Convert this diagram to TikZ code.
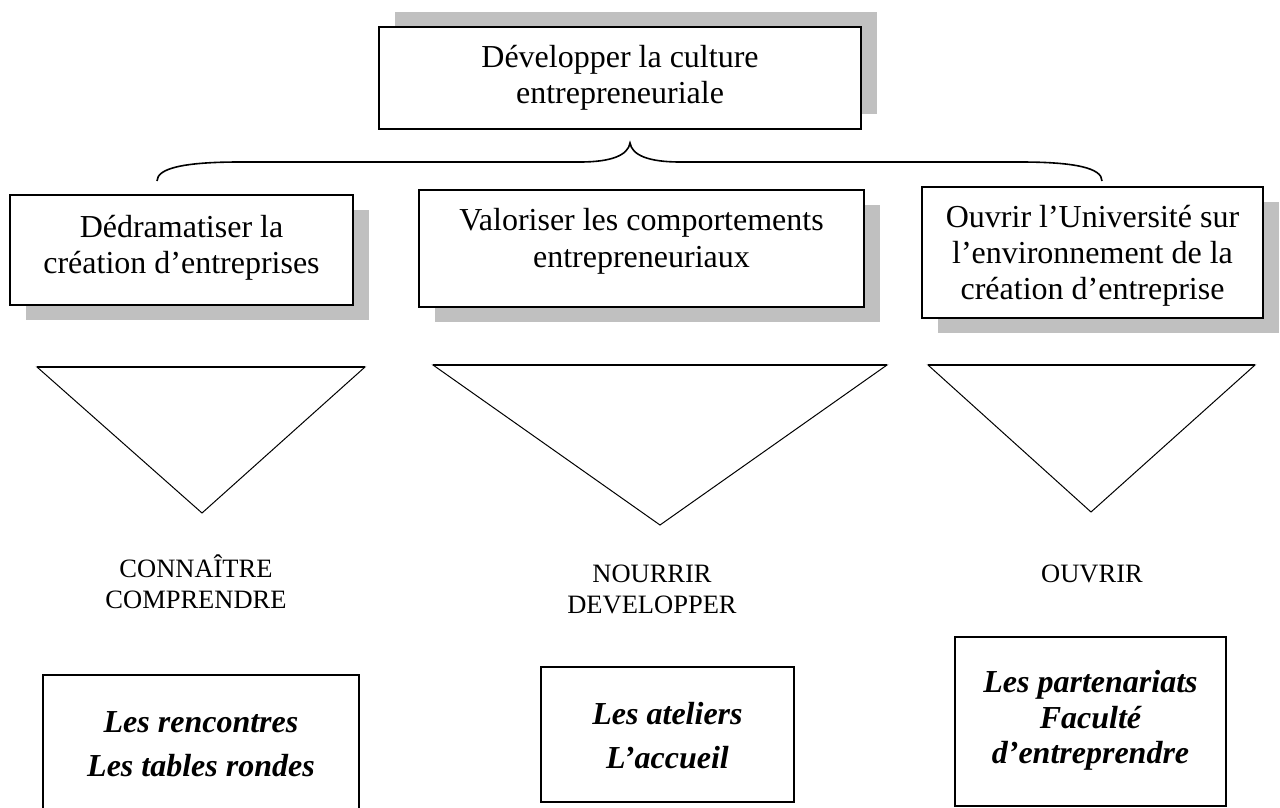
\documentclass[tikz,border=0pt]{standalone}
\usepackage{fontspec}
\setmainfont{Liberation Serif}
\definecolor{shadowgray}{RGB}{192,192,192}
\tikzset{
  box/.style={draw=black, line width=1.6pt, fill=white, inner sep=0pt},
  actbox/.style={draw=black, line width=1.3pt, fill=white, inner sep=0pt},
  shadowbox/.style={fill=shadowgray, draw=none, inner sep=0pt},
  txtline/.style={inner sep=0pt, anchor=base, font=\fontsize{32}{36}\selectfont},
  verbline/.style={inner sep=0pt, anchor=base, font=\fontsize{26.5}{31}\selectfont},
  actline/.style={inner sep=0pt, anchor=base, font=\fontsize{32}{36}\selectfont\bfseries\itshape},
  tri/.style={draw=black, line width=1pt, line join=miter},
  tritop/.style={draw=black, line width=1.9pt},
  bracepath/.style={draw=black, line width=1.6pt},
}
\begin{document}
\begin{tikzpicture}[x=1pt,y=-1pt]
\useasboundingbox (0,0) rectangle (1280,808);
\clip (0,0) rectangle (1280,808);

% shadows
\node[shadowbox, minimum width=482pt, minimum height=102pt] (topsh) at (636,63) {};
\node[shadowbox, minimum width=343pt, minimum height=110pt] (b1sh) at (197.5,265) {};
\node[shadowbox, minimum width=445pt, minimum height=117pt] (b2sh) at (657.5,263.5) {};
\node[shadowbox, minimum width=341pt, minimum height=131pt] (b3sh) at (1108.5,267.5) {};

% boxes
\node[box, minimum width=482pt, minimum height=102pt] (top) at (620,78) {};
\node[box, minimum width=343pt, minimum height=110pt] (b1) at (181.5,250) {};
\node[box, minimum width=445pt, minimum height=117pt] (b2) at (641.5,248.5) {};
\node[box, minimum width=341pt, minimum height=131pt] (b3) at (1092.5,252.5) {};

% box texts
\node[txtline] (top1) at (620,67) {Développer la culture};
\node[txtline] (top2) at (620,103) {entrepreneuriale};
\node[txtline] (b1a) at (181.5,237) {Dédramatiser la};
\node[txtline] (b1b) at (181.5,273) {création d’entreprises};
\node[txtline] (b2a) at (641.5,230) {Valoriser les comportements};
\node[txtline] (b2b) at (641.5,267) {entrepreneuriaux};
\node[txtline] (b3a) at (1092.5,227) {Ouvrir l’Université sur};
\node[txtline] (b3b) at (1092.5,263) {l’environnement de la};
\node[txtline] (b3c) at (1092.5,299) {création d’entreprise};

% brace
\coordinate (brL) at (157,181);
\coordinate (brM) at (630,143);
\coordinate (brR) at (1102,181);
\draw[bracepath] (brL) .. controls (157,168) and (185,162) .. (240,162) -- (580,162)
  .. controls (612,162) and (628,155) .. (brM)
  .. controls (632,155) and (648,162) .. (680,162) -- (1020,162)
  .. controls (1075,162) and (1102,168) .. (brR);

% triangles
\coordinate (t1l) at (37,367);  \coordinate (t1r) at (365,367);  \coordinate (t1b) at (202,513);
\coordinate (t2l) at (433,365); \coordinate (t2r) at (887,365);  \coordinate (t2b) at (660,525);
\coordinate (t3l) at (928,365); \coordinate (t3r) at (1255,365); \coordinate (t3b) at (1091,512);
\draw[tri] (t1l) -- (t1r) -- (t1b) -- cycle;
\draw[tri] (t2l) -- (t2r) -- (t2b) -- cycle;
\draw[tri] (t3l) -- (t3r) -- (t3b) -- cycle;
\draw[tritop] (t1l) -- (t1r);
\draw[tritop] (t2l) -- (t2r);
\draw[tritop] (t3l) -- (t3r);

% verbs
\node[verbline] (v1a) at (196,577) {CONNAÎTRE};
\node[verbline] (v1b) at (196,608) {COMPRENDRE};
\node[verbline] (v2a) at (652,582) {NOURRIR};
\node[verbline] (v2b) at (652,613) {DEVELOPPER};
\node[verbline] (v3a) at (1092,582) {OUVRIR};

% action boxes
\node[actbox, minimum width=316pt, minimum height=140pt] (a1) at (201,745) {};
\node[actbox, minimum width=253pt, minimum height=135pt] (a2) at (667.5,734.5) {};
\node[actbox, minimum width=271pt, minimum height=169pt] (a3) at (1090.5,721.5) {};

\node[actline] (a1a) at (201,732) {Les rencontres};
\node[actline] (a1b) at (201,776) {Les tables rondes};
\node[actline] (a2a) at (667.5,724) {Les ateliers};
\node[actline] (a2b) at (667.5,768) {L’accueil};
\node[actline] (a3a) at (1090.5,692) {Les partenariats};
\node[actline] (a3b) at (1090.5,728) {Faculté};
\node[actline] (a3c) at (1090.5,763) {d’entreprendre};
\end{tikzpicture}
\end{document}
